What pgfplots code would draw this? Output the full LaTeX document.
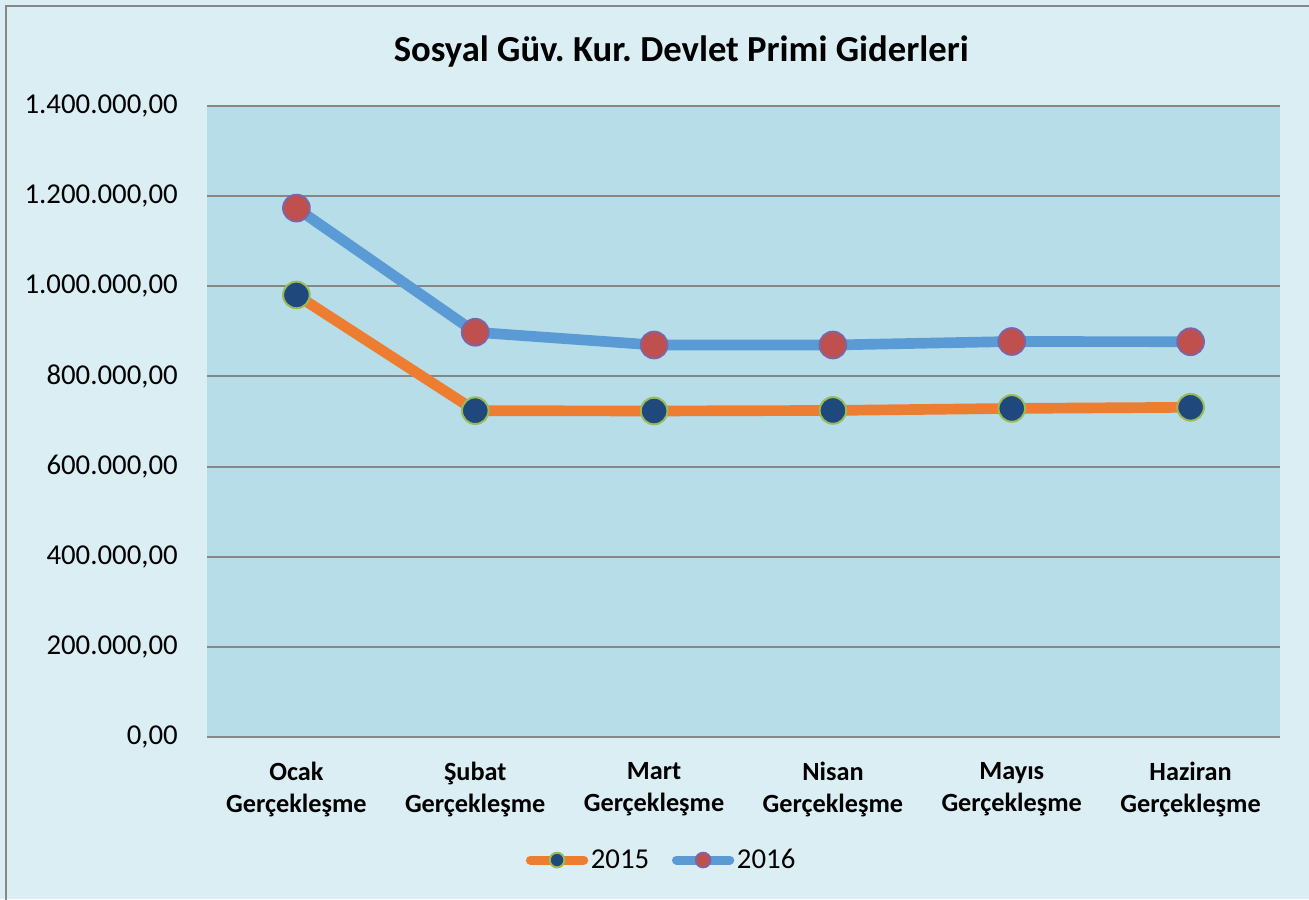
\documentclass[border=0pt]{standalone}
\usepackage{fontspec}
\setmainfont{Carlito}
\usepackage{pgfplots}
\pgfplotsset{compat=1.18}
\frenchspacing
\definecolor{bgout}{HTML}{DBEEF4}
\definecolor{bgin}{HTML}{B7DDE8}
\definecolor{gridgray}{HTML}{878787}
\definecolor{c15}{HTML}{ED7D31}
\definecolor{c16}{HTML}{5B9BD5}
\definecolor{m15}{HTML}{1F497D}
\definecolor{m15e}{HTML}{9BBB59}
\definecolor{m16}{HTML}{C0504D}
\definecolor{m16e}{HTML}{8064A2}
\begin{document}
\begin{tikzpicture}
\useasboundingbox (0,0) rectangle (981.75pt,674.25pt);
\fill[bgout] (0,0) rectangle (981.75pt,674.25pt);
\draw[gridgray, line width=1.5pt] (4.5pt,-8pt) rectangle (990pt,669.75pt);
\node[font=\bfseries\fontsize{27.5}{33}\selectfont] at (511pt,635.5pt) {Sosyal Güv. Kur. Devlet Primi Giderleri};
\coordinate (A) at (155.25pt,121.5pt);
\begin{axis}[
  at={(A)}, anchor=south west,
  scale only axis, width=804.75pt, height=473.25pt,
  xmin=-0.5, xmax=5.5, ymin=0, ymax=1400000,
  axis background/.style={fill=bgin},
  axis line style={draw=none},
  major tick length=0pt,
  ymajorgrids, major grid style={draw=gridgray, line width=1.5pt},
  xtick={0,1,2,3,4,5},
  xticklabels={{Ocak\\Gerçekleşme},{Şubat\\Gerçekleşme},{Mart\\Gerçekleşme},{Nisan\\Gerçekleşme},{Mayıs\\Gerçekleşme},{Haziran\\Gerçekleşme}},
  xticklabel style={align=center, anchor=north, inner sep=0pt, yshift=-18.75pt, font=\bfseries\fontsize{19.7}{24}\selectfont},
  ytick={0,200000,400000,600000,800000,1000000,1200000,1400000},
  yticklabels={{0,00},{200.000,00},{400.000,00},{600.000,00},{800.000,00},{1.000.000,00},{1.200.000,00},{1.400.000,00}},
  yticklabel style={anchor=east, inner sep=0pt, xshift=-21.75pt, font=\fontsize{21.6}{26}\selectfont},
  scaled y ticks=false,
  legend style={at={(0.424,-0.195)}, anchor=center, draw=none, fill=none, font=\fontsize{21.6}{26}\selectfont, inner sep=0pt},
  legend columns=2,
  /tikz/every even column/.append style={column sep=15pt},
  legend image code/.code={
    \draw[#1, line width=6.75pt, line cap=round, mark size=5.5pt, mark indices={2}] plot coordinates {(4pt,0pt) (24pt,0pt) (44pt,0pt)};
  },
  clip=false,
]
\addplot[c15, line width=8pt, line join=round, mark=*, mark size=10pt, mark options={fill=m15, draw=m15e, line width=1.5pt}]
  coordinates {(0,980700) (1,724000) (2,723300) (3,724500) (4,729000) (5,731500)};
\addlegendentry{2015}
\addplot[c16, line width=8pt, line join=round, mark=*, mark size=10pt, mark options={fill=m16, draw=m16e, line width=1.5pt}]
  coordinates {(0,1173500) (1,898000) (2,869700) (3,869700) (4,877500) (5,877000)};
\addlegendentry{2016}
\end{axis}
\end{tikzpicture}
\end{document}
